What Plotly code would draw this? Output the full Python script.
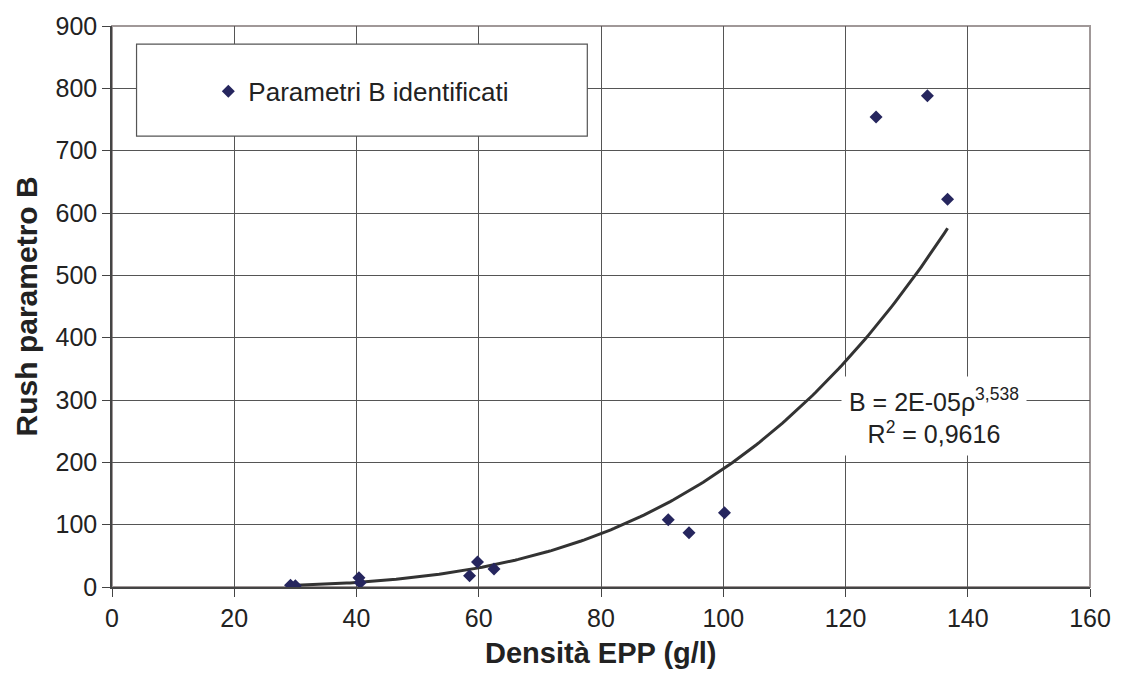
import numpy as np
import plotly.graph_objects as go

# ---- data ----
density = [29.2, 30.0, 40.4, 40.6, 58.5, 59.8, 62.5, 91.0, 94.4, 100.2, 125.0, 133.4, 136.7]
param_b = [3, 2, 15, 7, 18, 40, 29, 108, 87, 119, 754, 788, 622]
series_name = "Parametri B identificati"
x_ticks = [0, 20, 40, 60, 80, 100, 120, 140, 160]
y_ticks = [0, 100, 200, 300, 400, 500, 600, 700, 800, 900]
eq_text = "B = 2E-05ρ<sup>3,538</sup><br>R<sup>2</sup> = 0,9616"

# power trendline (Excel-style log-log least squares) computed from the data
lx = np.log(density)
ly = np.log(param_b)
slope, intercept = np.polyfit(lx, ly, 1)
xfit = np.linspace(min(density), max(density), 200)
yfit = np.exp(intercept) * xfit ** slope

FONT = "Liberation Sans, Arial, sans-serif"
TXT = "#222222"
GRID = "#555555"

fig = go.Figure()
fig.add_trace(go.Scatter(
    x=xfit, y=yfit, mode="lines", showlegend=False, hoverinfo="skip",
    line=dict(color="#333333", width=3)))
fig.add_trace(go.Scatter(
    x=density, y=param_b, mode="markers", name=series_name,
    marker=dict(symbol="diamond", size=10, color="#26265e")))

fig.update_layout(
    width=1123, height=673,
    margin=dict(l=112, r=26, t=25, b=86, pad=0),
    paper_bgcolor="white", plot_bgcolor="white",
    font=dict(family=FONT, size=25, color=TXT),
    showlegend=True,
    legend=dict(x=0.0985, y=0.8836, xanchor="left", yanchor="middle",
                bgcolor="rgba(0,0,0,0)", borderwidth=0,
                font=dict(family=FONT, size=26, color=TXT),
                itemsizing="trace"),
    xaxis=dict(range=[0, 160], tickvals=x_ticks, ticktext=[str(v) for v in x_ticks],
               showgrid=True, gridcolor=GRID, gridwidth=1, zeroline=False,
               showline=True, linecolor="#444444", linewidth=1.5,
               ticks="outside", ticklen=8, tickcolor="#444444",
               tickfont=dict(size=25, color=TXT)),
    yaxis=dict(range=[0, 900], tickvals=y_ticks, ticktext=[str(v) for v in y_ticks],
               showgrid=True, gridcolor=GRID, gridwidth=1, zeroline=False,
               showline=True, linecolor="#444444", linewidth=1.5,
               ticks="outside", ticklen=8, tickcolor="#444444",
               tickfont=dict(size=25, color=TXT)),
    shapes=[
        dict(type="rect", xref="paper", yref="paper", x0=0, x1=1, y0=0, y1=1,
             line=dict(color="#a09898", width=2), layer="below"),
        dict(type="rect", xref="paper", yref="paper", x0=0.0251, x1=0.486,
             y0=0.8037, y1=0.9677, line=dict(color="#555555", width=1.2),
             fillcolor="white", layer="above"),
    ],
    annotations=[
        dict(text=eq_text, xref="x", yref="y", x=134.5, y=274, showarrow=False,
             xanchor="center", yanchor="middle", align="center",
             bgcolor="white", borderpad=7,
             font=dict(family=FONT, size=25, color=TXT)),
        dict(text="<b>Rush parametro B</b>", xref="paper", yref="paper",
             x=-0.087, y=0.5, textangle=-90, showarrow=False,
             xanchor="center", yanchor="middle",
             font=dict(family=FONT, size=30, color=TXT)),
        dict(text="<b>Densità EPP (g/l)</b>", xref="paper", yref="paper",
             x=0.5, y=-0.118, showarrow=False, xanchor="center", yanchor="middle",
             font=dict(family=FONT, size=29, color=TXT)),
    ],
)

fig.write_html("out.html",
               config={"displayModeBar": False},
               post_script="document.body.style.margin='0px';document.body.style.overflow='hidden';")
